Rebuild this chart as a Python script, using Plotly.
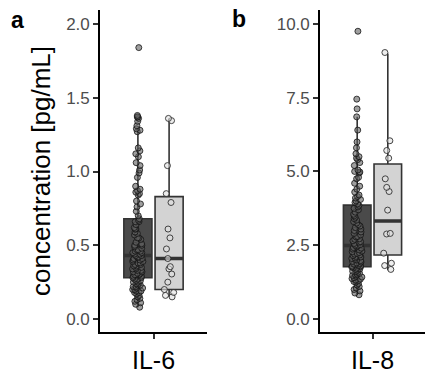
import plotly.graph_objects as go

# ---------------- data ----------------
categories = ["IL-6", "IL-8"]
group_names = ["group 1", "group 2"]

il6_dark = [1.84, 1.38, 1.37, 1.37, 1.36, 1.34, 1.31, 1.29, 1.28,
            1.27, 1.16, 1.14, 1.12, 1.10, 1.06, 1.04, 1.01, 0.99, 0.96, 0.90,
            0.88, 0.87, 0.86, 0.85, 0.84, 0.80, 0.78, 0.76, 0.73, 0.70,
            0.68, 0.67, 0.66, 0.66, 0.64, 0.62, 0.61, 0.61, 0.59, 0.58,
            0.57, 0.55, 0.55, 0.54, 0.52, 0.51, 0.50, 0.50, 0.49, 0.48,
            0.47, 0.47, 0.46, 0.46, 0.45, 0.45, 0.44, 0.44, 0.43, 0.43,
            0.42, 0.42, 0.41, 0.41, 0.40, 0.40, 0.39, 0.39, 0.38, 0.38,
            0.37, 0.37, 0.36, 0.36, 0.35, 0.35, 0.34, 0.34, 0.33, 0.33,
            0.32, 0.32, 0.31, 0.31, 0.30, 0.30, 0.30, 0.29, 0.29, 0.28,
            0.28, 0.27, 0.27, 0.26, 0.26, 0.25, 0.25, 0.24, 0.24, 0.23,
            0.23, 0.22, 0.22, 0.21, 0.21, 0.20, 0.20, 0.19, 0.19, 0.18,
            0.18, 0.17, 0.16, 0.15, 0.14, 0.13, 0.12, 0.11, 0.10, 0.08]
il6_light = [1.36, 1.345, 1.04, 0.85, 0.79, 0.61, 0.55, 0.475, 0.41,
             0.355, 0.34, 0.305, 0.25, 0.20, 0.18, 0.16, 0.15]

il8_dark = [9.75, 7.45, 7.12,
            6.85, 6.40, 6.00, 5.80, 5.60, 5.50, 5.45, 5.40, 5.30, 5.20,
            5.05, 5.00, 4.98, 4.95, 4.80, 4.75, 4.60, 4.50, 4.40, 4.30,
            4.20, 4.15, 4.10, 4.05, 4.00, 3.95, 3.90,
            3.85, 3.80, 3.75, 3.70, 3.62, 3.55, 3.50, 3.45, 3.40, 3.35,
            3.30, 3.25, 3.20, 3.15, 3.10, 3.05, 3.00, 2.95, 2.90, 2.85,
            2.80, 2.78, 2.72, 2.70, 2.65, 2.62, 2.60, 2.56, 2.52, 2.50,
            2.48, 2.45, 2.42, 2.40, 2.37, 2.34, 2.30, 2.28, 2.25, 2.22,
            2.20, 2.17, 2.15, 2.12, 2.10, 2.07, 2.05, 2.02, 2.00, 1.98,
            1.95, 1.93, 1.90, 1.88, 1.86, 1.84, 1.82, 1.80, 1.79, 1.77,
            1.76, 1.74, 1.72, 1.70, 1.68, 1.65, 1.62, 1.60, 1.58, 1.55,
            1.52, 1.50, 1.48, 1.45, 1.42, 1.40, 1.37, 1.35, 1.32, 1.30,
            1.27, 1.25, 1.20, 1.15, 1.10, 1.05, 1.00, 0.95, 0.88, 0.82]
il8_light = [9.03, 6.04, 5.71, 5.45, 4.75, 4.46, 4.32, 3.69, 2.90, 2.88,
             2.23, 1.89, 1.81, 1.68]

# box statistics per group [dark, light]
il6_q1 = [0.28, 0.20]
il6_median = [0.43, 0.41]
il6_q3 = [0.68, 0.83]
il6_low = [0.08, 0.15]
il6_high = [1.27, 1.36]

il8_q1 = [1.77, 2.17]
il8_median = [2.49, 3.32]
il8_q3 = [3.86, 5.25]
il8_low = [0.82, 1.65]
il8_high = [6.85, 9.00]

il6_ticks = [0.0, 0.5, 1.0, 1.5, 2.0]
il8_ticks = [0.0, 2.5, 5.0, 7.5, 10.0]

# ---------------- styling ----------------
FONT = "Liberation Sans, Arial, sans-serif"
box_fill = ["#4a4a4a", "#d3d3d3"]
box_line = "#333333"
pt_fill = ["rgba(95,95,95,0.6)", "rgba(225,225,225,0.6)"]
pt_line = ["rgba(20,20,20,0.8)", "rgba(40,40,40,0.85)"]
offsets = ["g1", "g2"]

fig = go.Figure()


def add_panel(cat, q1, med, q3, lo, hi, samples, xa, ya):
    # boxes
    for i in range(2):
        fig.add_trace(go.Box(
            x=[cat], q1=[q1[i]], median=[med[i]], q3=[q3[i]],
            lowerfence=[lo[i]], upperfence=[hi[i]],
            fillcolor=box_fill[i], line=dict(color=box_line, width=1.6),
            whiskerwidth=0, boxpoints=False, offsetgroup=offsets[i],
            name=group_names[i], showlegend=False, xaxis=xa, yaxis=ya))
    # thick median lines
    for i in range(2):
        fig.add_trace(go.Box(
            x=[cat], q1=[med[i]], median=[med[i]], q3=[med[i]],
            lowerfence=[med[i]], upperfence=[med[i]],
            fillcolor="rgba(0,0,0,0)", line=dict(color=box_line, width=3.5),
            whiskerwidth=0, boxpoints=False, offsetgroup=offsets[i],
            name=group_names[i], showlegend=False, xaxis=xa, yaxis=ya))
    # jittered points
    for i in range(2):
        fig.add_trace(go.Box(
            x=[cat] * len(samples[i]), y=samples[i],
            boxpoints="all", jitter=0.42, pointpos=0,
            fillcolor="rgba(0,0,0,0)", line=dict(color="rgba(0,0,0,0)", width=0),
            marker=dict(size=6, color=pt_fill[i],
                        line=dict(color=pt_line[i], width=1)),
            whiskerwidth=0, offsetgroup=offsets[i],
            name=group_names[i], showlegend=False, xaxis=xa, yaxis=ya))


add_panel(categories[0], il6_q1, il6_median, il6_q3, il6_low, il6_high,
          [il6_dark, il6_light], "x", "y")
add_panel(categories[1], il8_q1, il8_median, il8_q3, il8_low, il8_high,
          [il8_dark, il8_light], "x2", "y2")

W, H = 425, 376
y_dom = [1 - 332 / H, 1 - 10 / H]

xcommon = dict(showline=True, linecolor="black", linewidth=1.6,
               ticks="outside", ticklen=5, tickwidth=1.6, tickcolor="#333333",
               tickfont=dict(size=25, color="black", family=FONT),
               showgrid=False, zeroline=False, range=[-0.6, 0.6],
               fixedrange=True)
ycommon = dict(showline=True, linecolor="black", linewidth=1.6,
               ticks="outside", ticklen=5, tickwidth=1.6, tickcolor="#333333",
               tickfont=dict(size=17, color="#4d4d4d", family=FONT),
               showgrid=False, zeroline=False, tickformat=".1f",
               domain=y_dom)

fig.update_layout(
    width=W, height=H,
    margin=dict(l=0, r=0, t=0, b=0),
    paper_bgcolor="white", plot_bgcolor="white",
    font=dict(family=FONT),
    boxmode="group", boxgap=0.3, boxgroupgap=0.1,
    xaxis=dict(xcommon, domain=[100 / W, 207 / W], anchor="y"),
    yaxis=dict(ycommon, anchor="x", range=[-0.088, 2.095], tickvals=il6_ticks),
    xaxis2=dict(xcommon, domain=[320 / W, 1.0], anchor="y2"),
    yaxis2=dict(ycommon, anchor="x2", range=[-0.44, 10.47], tickvals=il8_ticks),
    annotations=[
        dict(text="concentration [pg/mL]", textangle=-90, showarrow=False,
             xref="paper", yref="paper", x=41 / W, y=1 - 171 / H,
             xanchor="center", yanchor="middle",
             font=dict(size=26, color="black", family=FONT)),
        dict(text="<b>a</b>", showarrow=False, xref="paper", yref="paper",
             x=17 / W, y=1 - 20 / H, xanchor="center", yanchor="middle",
             font=dict(size=23, color="black", family=FONT)),
        dict(text="<b>b</b>", showarrow=False, xref="paper", yref="paper",
             x=239 / W, y=1 - 19 / H, xanchor="center", yanchor="middle",
             font=dict(size=23, color="black", family=FONT)),
    ],
)

fig.write_html("out.html",
               config={"displayModeBar": False},
               post_script="document.body.style.margin='0px';"
                           "document.body.style.overflow='hidden';")
